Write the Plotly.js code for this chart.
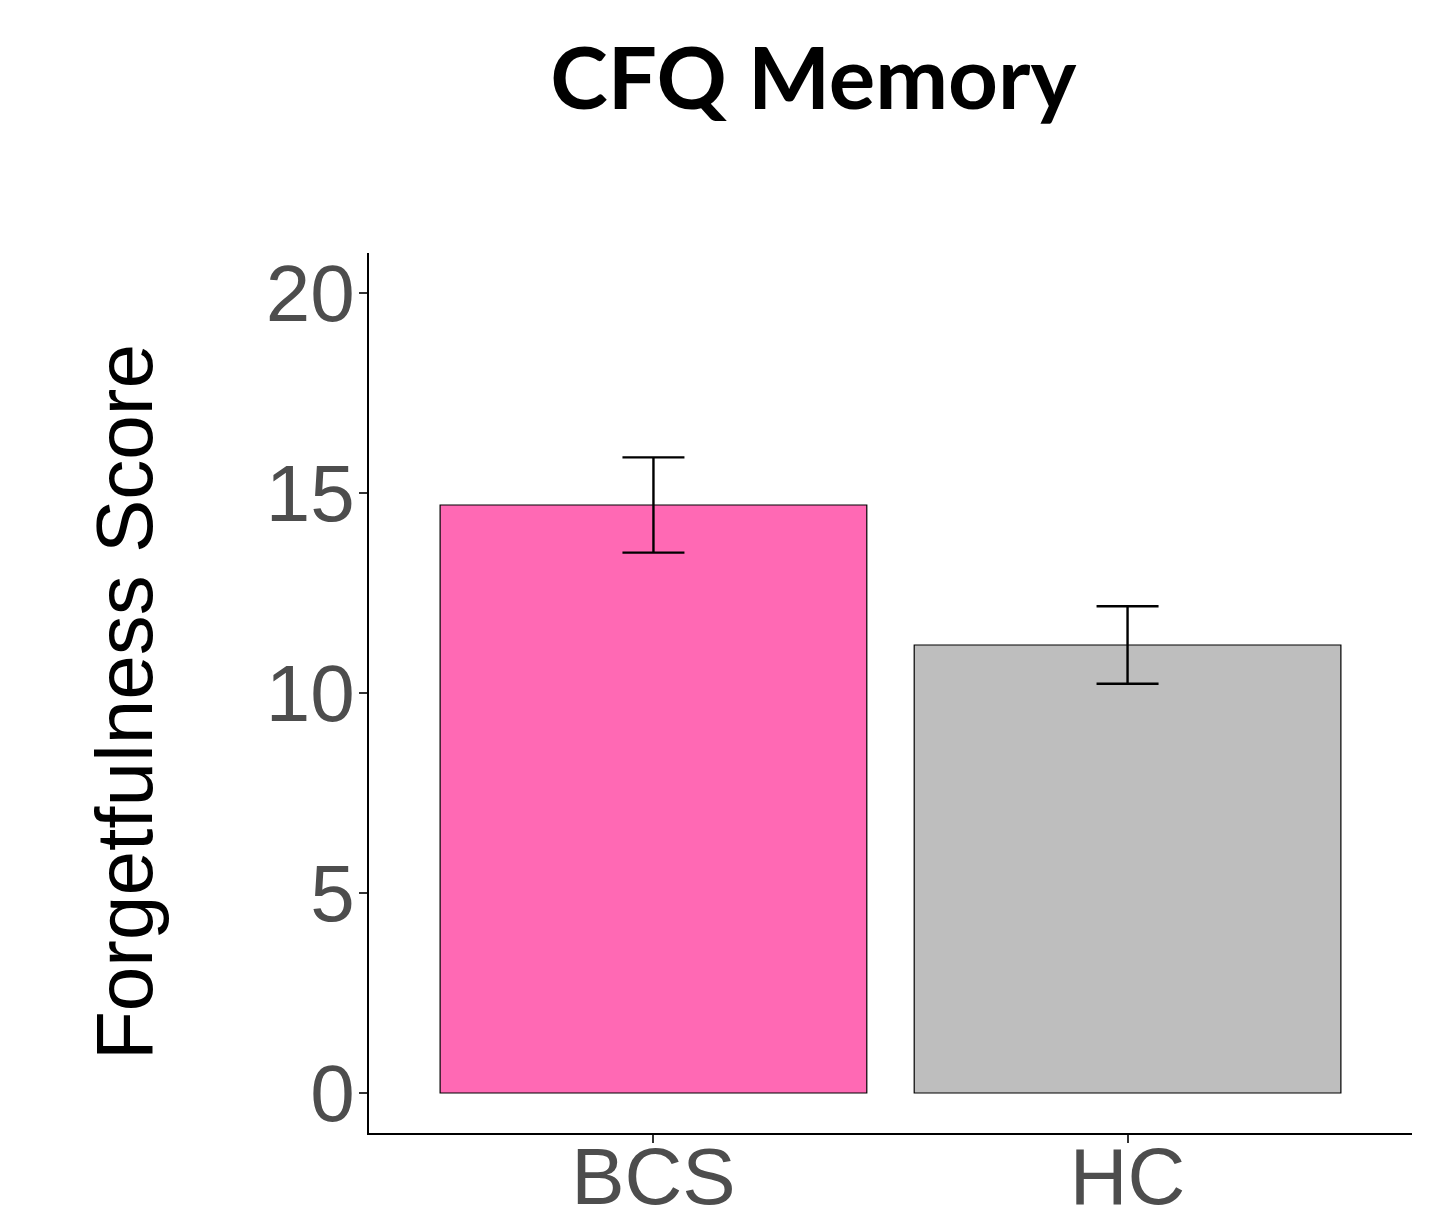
<!DOCTYPE html>
<html>
<head>
<meta charset="utf-8">
<script src="https://cdn.plot.ly/plotly-3.0.1.min.js"></script>
<style>html,body{margin:0;padding:0;background:#fff;}</style>
</head>
<body>
<div id="chart" style="width:1455px;height:1210px;"></div>
<script>
const categories = ["BCS", "HC"];
const meanScores = [14.7, 11.2];
const stdErrors = [1.19, 0.97];
const barColors = ["#FF69B4", "#BEBEBE"];
const yTickValues = [0, 5, 10, 15, 20];
const yTickLabels = ["0", "5", "10", "15", "20"];
const yAxisTitle = "Forgetfulness Score";

const trace = {
  type: "bar",
  x: categories,
  y: meanScores,
  width: 0.9,
  marker: { color: barColors, line: { color: "#000000", width: 1.2 } },
  error_y: { type: "data", array: stdErrors, visible: true, color: "#000000", thickness: 2.4, width: 31 },
  hoverinfo: "none"
};

const layout = {
  width: 1455,
  height: 1210,
  paper_bgcolor: "#ffffff",
  plot_bgcolor: "#ffffff",
  showlegend: false,
  margin: { l: 369, r: 43, t: 253, b: 77, pad: 0 },
  title: {
    text: "<b>CFQ Memory</b>",
    font: { family: "Lato, 'Open Sans', sans-serif", size: 87, color: "#000000" },
    x: 0.559, xanchor: "center",
    y: 0.935, yanchor: "middle",
    xref: "container", yref: "container"
  },
  xaxis: {
    type: "category",
    range: [-0.6, 1.6],
    showline: true, linecolor: "#000000", linewidth: 2.2,
    ticks: "outside", ticklen: 8, tickwidth: 2, tickcolor: "#333333",
    ticklabelstandoff: -35,
    tickfont: { family: "'Liberation Sans', Arial, sans-serif", size: 80, color: "#4D4D4D" },
    showgrid: false, zeroline: false, fixedrange: true
  },
  yaxis: {
    range: [-1, 21],
    tickvals: yTickValues,
    ticktext: yTickLabels,
    showline: true, linecolor: "#000000", linewidth: 2.2,
    ticks: "outside", ticklen: 8, tickwidth: 2, tickcolor: "#333333",
    ticklabelstandoff: -12,
    tickfont: { family: "'Liberation Sans', Arial, sans-serif", size: 80, color: "#4D4D4D" },
    automargin: false,
    showgrid: false, zeroline: false, fixedrange: true
  },
  annotations: [{
    text: yAxisTitle,
    textangle: -90,
    xref: "paper", yref: "paper",
    x: -0.2344, y: 0.4892,
    xanchor: "center", yanchor: "middle",
    showarrow: false,
    font: { family: "'Liberation Sans', Arial, sans-serif", size: 80, color: "#000000" }
  }]
};

Plotly.newPlot("chart", [trace], layout, { displayModeBar: false, staticPlot: true });
</script>
</body>
</html>
